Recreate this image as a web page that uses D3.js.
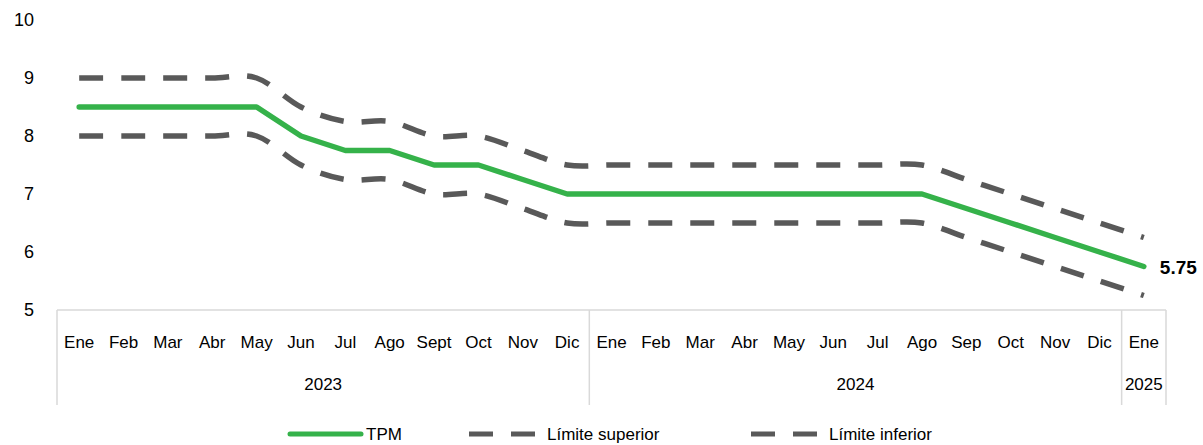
<!DOCTYPE html>
<html>
<head>
<meta charset="utf-8">
<script src="https://cdn.jsdelivr.net/npm/d3@7"></script>
<style>
  body { margin: 0; background: #fff; }
  text { font-family: "Liberation Sans", Arial, sans-serif; }
</style>
</head>
<body>
<div id="chart-container"></div>
<script>
// Datos: TPM y límites del rango
const months = ["Ene","Feb","Mar","Abr","May","Jun","Jul","Ago","Sept","Oct","Nov","Dic",
                "Ene","Feb","Mar","Abr","May","Jun","Jul","Ago","Sep","Oct","Nov","Dic",
                "Ene"];
const years = [
  { label: "2023", count: 12 },
  { label: "2024", count: 12 },
  { label: "2025", count: 1 }
];
const tpm = [8.5, 8.5, 8.5, 8.5, 8.5, 8.0, 7.75, 7.75, 7.5, 7.5, 7.25, 7.0,
             7.0, 7.0, 7.0, 7.0, 7.0, 7.0, 7.0, 7.0, 6.75, 6.5, 6.25, 6.0,
             5.75];
const limSup = [9.0, 9.0, 9.0, 9.0, 9.0, 8.5, 8.25, 8.25, 8.0, 8.0, 7.75, 7.5,
                7.5, 7.5, 7.5, 7.5, 7.5, 7.5, 7.5, 7.5, 7.25, 7.0, 6.75, 6.5,
                6.25];
const limInf = [8.0, 8.0, 8.0, 8.0, 8.0, 7.5, 7.25, 7.25, 7.0, 7.0, 6.75, 6.5,
                6.5, 6.5, 6.5, 6.5, 6.5, 6.5, 6.5, 6.5, 6.25, 6.0, 5.75, 5.5,
                5.25];
const yTicks = [5, 6, 7, 8, 9, 10];

const width = 1203, height = 445;
const margin = { top: 20, right: 40, bottom: 135, left: 57 };
const green = "#35b24a", gray = "#595959", axisGray = "#d9d9d9";

const svg = d3.select("#chart-container")
  .append("svg")
  .attr("width", width)
  .attr("height", height);

// Escalas
const idx = months.map((d, i) => i);
const x = d3.scaleBand().domain(idx).range([margin.left, width - margin.right + 3]);
const y = d3.scaleLinear().domain([5, 10]).range([height - margin.bottom, margin.top]);
const cx = i => x(i) + x.bandwidth() / 2;

// Eje Y (solo etiquetas)
const yAxis = svg.append("g")
  .attr("transform", `translate(${margin.left - 23}, 0)`)
  .call(d3.axisLeft(y).tickValues(yTicks).tickFormat(d3.format("d")).tickSize(0).tickPadding(0));
yAxis.select(".domain").remove();
yAxis.selectAll("text")
  .style("font-size", "18px")
  .attr("fill", "#000")
  .style("font-family", "Liberation Sans, Arial, sans-serif");

// Eje X: línea base y separadores de año
const x0 = x.range()[0], x1 = x.range()[1], yBase = y(5);
svg.append("line")
  .attr("x1", x0).attr("x2", x1)
  .attr("y1", yBase).attr("y2", yBase)
  .attr("stroke", axisGray).attr("stroke-width", 1.5);

let start = 0;
const bounds = [0];
years.forEach(yr => { start += yr.count; bounds.push(start); });
bounds.forEach(b => {
  const bx = b < months.length ? x(b) : x1;
  svg.append("line")
    .attr("x1", bx).attr("x2", bx)
    .attr("y1", yBase).attr("y2", yBase + 95)
    .attr("stroke", axisGray).attr("stroke-width", 1.5);
});

// Etiquetas de meses
svg.selectAll(".mes")
  .data(months)
  .enter()
  .append("text")
  .attr("class", "mes")
  .attr("x", (d, i) => cx(i))
  .attr("y", yBase + 38)
  .attr("text-anchor", "middle")
  .style("font-size", "17px")
  .text(d => d);

// Etiquetas de años
let acc = 0;
years.forEach(yr => {
  const a = x(acc);
  const b = acc + yr.count < months.length ? x(acc + yr.count) : x1;
  svg.append("text")
    .attr("x", (a + b) / 2)
    .attr("y", yBase + 80)
    .attr("text-anchor", "middle")
    .style("font-size", "17px")
    .text(yr.label);
  acc += yr.count;
});

// Líneas
const smooth = d3.line().x((d, i) => cx(i)).y(d => y(d)).curve(d3.curveCatmullRom.alpha(0));
const straight = d3.line().x((d, i) => cx(i)).y(d => y(d));

[limSup, limInf].forEach(serie => {
  svg.append("path")
    .datum(serie)
    .attr("d", smooth)
    .attr("fill", "none")
    .attr("stroke", gray)
    .attr("stroke-width", 5.5)
    .attr("stroke-dasharray", "24,18");
});

svg.append("path")
  .datum(tpm)
  .attr("d", straight)
  .attr("fill", "none")
  .attr("stroke", green)
  .attr("stroke-width", 5.5)
  .attr("stroke-linejoin", "round")
  .attr("stroke-linecap", "round");

// Etiqueta del último valor
const last = tpm.length - 1;
svg.append("text")
  .attr("x", cx(last) + 16)
  .attr("y", y(tpm[last]))
  .attr("dy", "0.4em")
  .style("font-size", "19px")
  .style("font-weight", "bold")
  .text(d3.format(".2f")(tpm[last]));

// Leyenda
const ly = 434;
const legend = svg.append("g");
legend.append("line")
  .attr("x1", 290).attr("x2", 361).attr("y1", ly).attr("y2", ly)
  .attr("stroke", green).attr("stroke-width", 5).attr("stroke-linecap", "round");
legend.append("text").attr("x", 366).attr("y", ly).attr("dy", "0.36em")
  .style("font-size", "17px").text("TPM");

[{ x: 469, label: "Límite superior" }, { x: 751, label: "Límite inferior" }].forEach(l => {
  legend.append("line")
    .attr("x1", l.x).attr("x2", l.x + 66).attr("y1", ly).attr("y2", ly)
    .attr("stroke", gray).attr("stroke-width", 5)
    .attr("stroke-dasharray", "24,18");
  legend.append("text").attr("x", l.x + 78).attr("y", ly).attr("dy", "0.36em")
    .style("font-size", "17px").text(l.label);
});
</script>
</body>
</html>
